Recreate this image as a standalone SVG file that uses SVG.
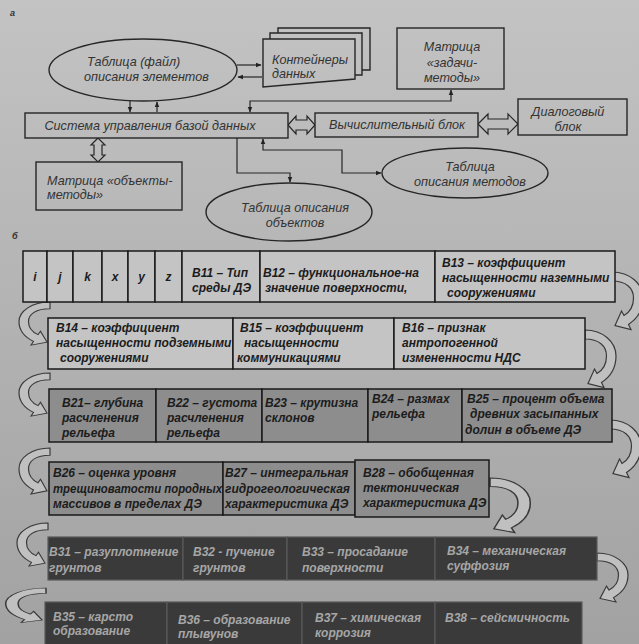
<svg xmlns="http://www.w3.org/2000/svg" xmlns:xlink="http://www.w3.org/1999/xlink" width="639" height="644" viewBox="0 0 639 644">
<defs>
<linearGradient id="bg" gradientUnits="userSpaceOnUse" x1="0" y1="0" x2="0" y2="644">
<stop offset="0" stop-color="#c3c3c3"/><stop offset="1" stop-color="#a2a2a2"/>
</linearGradient>
<marker id="ah" viewBox="0 0 10 10" refX="9" refY="5" markerWidth="5" markerHeight="5" orient="auto-start-reverse"><path d="M0,1 L10,5 L0,9 Z" fill="#222"/></marker>
<path id="carrow" d="M 0 0 C 18 0 31 12 31 26 C 31 39 25 47 16.5 52.5 L 19 57.5 L 3 53.5 L 9.5 39 L 12 43.5 C 18 40 21.5 34 21.5 26 C 21.5 16 14 9 0 9 Z"/>
</defs>
<style>
.ta{font-family:"Liberation Sans",Arial,sans-serif;font-size:12.6px;font-style:italic;fill:#333}
.tb{font-family:"Liberation Sans",Arial,sans-serif;font-size:12px;font-style:italic;font-weight:bold;fill:#1c1c1c}
.tw{font-family:"Liberation Sans",Arial,sans-serif;font-size:12px;font-style:italic;font-weight:bold;fill:#a6a6a6}
.mid{text-anchor:middle}
.nd{fill:url(#bg);stroke:#262626;stroke-width:1.4}
.c1{fill:#c4c4c4;stroke:#1a1a1a;stroke-width:1.5}
.c3{fill:#8d8d8d;stroke:#1a1a1a;stroke-width:1.5}
.c5{fill:#3a3a3a;stroke:#5a5a5a;stroke-width:1.2}
.ln{fill:none;stroke:#262626;stroke-width:1.2}
.ha{fill:url(#bg);stroke:#262626;stroke-width:1.2}
.ca{fill:#c0c0c0;stroke:#3a3a3a;stroke-width:1.2}
.lab{font-family:"Liberation Sans",Arial,sans-serif;font-size:9px;font-style:italic;font-weight:bold;fill:#333}
</style>
<rect x="0" y="0" width="639" height="644" fill="url(#bg)"/>
<text class="lab" x="10" y="16">а</text>
<text class="lab" x="12" y="239">б</text>

<g id="connectors">
<path class="ln" d="M237,65 H261" marker-end="url(#ah)"/>
<path class="ln" d="M262,77 H238" marker-end="url(#ah)"/>
<path class="ln" d="M130,101 V112" marker-end="url(#ah)"/>
<path class="ln" d="M157,112 V102" marker-end="url(#ah)"/>
<path class="ln" d="M451,90 V101 H250 V112" marker-start="url(#ah)" marker-end="url(#ah)"/>
<path class="ln" d="M237,138 V173 H290 V182" marker-end="url(#ah)"/>
<path class="ln" d="M263,139 V150 H342 V173 H381" marker-start="url(#ah)" marker-end="url(#ah)"/>
<path class="ha" d="M288,125 L296,116 L296,120 L307,120 L307,116 L315,125 L307,134 L307,130 L296,130 L296,134 Z"/>
<path class="ha" d="M478,124 L488,114 L488,119 L508,119 L508,114 L518,124 L508,134 L508,129 L488,129 L488,134 Z"/>
<path class="ha" d="M98,138 L91,145 L94,145 L94,155 L91,155 L98,162 L105,155 L102,155 L102,145 L105,145 Z"/>
<use xlink:href="#carrow" class="ca" transform="translate(612,272)"/>
<use xlink:href="#carrow" class="ca" transform="translate(50,302) scale(-1,0.75)"/>
<use xlink:href="#carrow" class="ca" transform="translate(585,330)"/>
<use xlink:href="#carrow" class="ca" transform="translate(50,373) scale(-1,0.75)"/>
<use xlink:href="#carrow" class="ca" transform="translate(610,420)"/>
<use xlink:href="#carrow" class="ca" transform="translate(50,448) scale(-1,0.8)"/>
<use xlink:href="#carrow" class="ca" transform="translate(490,478) scale(1.3,0.95)"/>
<use xlink:href="#carrow" class="ca" transform="translate(48,523) scale(-1,0.75)"/>
<use xlink:href="#carrow" class="ca" transform="translate(597,553) scale(1,0.85)"/>
<use xlink:href="#carrow" class="ca" transform="translate(46,588) scale(-1.3,0.6)"/>
</g>

<g id="tab-elements">
<ellipse class="nd" cx="143" cy="70" rx="94" ry="31"/>
<text class="ta" x="87" y="66">Таблица (файл)</text>
<text class="ta" x="84" y="81">описания элементов</text>
</g>
<g id="containers">
<path class="nd" d="M278,28 H370 V70 H278 Z"/>
<path class="nd" d="M270,33 H362 V75 H270 Z"/>
<path class="nd" d="M263,39 H355 V79 L263,87 Z"/>
<text class="ta" x="272" y="64">Контейнеры</text>
<text class="ta" x="272" y="78">данных</text>
</g>
<g id="matrix-tasks">
<rect class="nd" x="397" y="28" width="107" height="61"/>
<text class="ta mid" x="452" y="51">Матрица</text>
<text class="ta mid" x="452" y="67">«задачи-</text>
<text class="ta mid" x="452" y="82">методы»</text>
</g>
<g id="dbms">
<rect class="nd" x="25" y="113" width="263" height="25"/>
<text class="ta mid" x="150" y="130">Система управления базой данных</text>
</g>
<g id="compute">
<rect class="nd" x="315" y="113" width="163" height="24"/>
<text class="ta mid" x="397" y="129">Вычислительный блок</text>
</g>
<g id="dialog">
<rect class="nd" x="518" y="99" width="109" height="36"/>
<text class="ta mid" x="568" y="116">Диалоговый</text>
<text class="ta mid" x="568" y="131">блок</text>
</g>
<g id="matrix-objects">
<rect class="nd" x="36" y="162" width="146" height="48"/>
<text class="ta" x="47" y="185">Матрица «объекты-</text>
<text class="ta" x="47" y="199">методы»</text>
</g>
<g id="tab-methods">
<ellipse class="nd" cx="465" cy="173" rx="83" ry="25"/>
<text class="ta mid" x="470" y="171">Таблица</text>
<text class="ta mid" x="470" y="186">описания методов</text>
</g>
<g id="tab-objects">
<ellipse class="nd" cx="289" cy="212" rx="83" ry="29"/>
<text class="ta mid" x="295" y="212">Таблица описания</text>
<text class="ta mid" x="295" y="227">объектов</text>
</g>

<g id="r1-i"><rect class="c1" x="23" y="251" width="24" height="51"/><text class="tb mid" x="35" y="281">i</text></g>
<g id="r1-j"><rect class="c1" x="47" y="251" width="26" height="51"/><text class="tb mid" x="60" y="281">j</text></g>
<g id="r1-k"><rect class="c1" x="73" y="251" width="29" height="51"/><text class="tb mid" x="87.5" y="281">k</text></g>
<g id="r1-x"><rect class="c1" x="102" y="251" width="26" height="51"/><text class="tb mid" x="115" y="281">x</text></g>
<g id="r1-y"><rect class="c1" x="128" y="251" width="27" height="51"/><text class="tb mid" x="141.5" y="281">y</text></g>
<g id="r1-z"><rect class="c1" x="155" y="251" width="27" height="51"/><text class="tb mid" x="168.5" y="281">z</text></g>
<g id="B11"><rect class="c1" x="182" y="251" width="78" height="51"/><text class="tb" x="192" y="277">В11 – Тип</text><text class="tb" x="192" y="292">среды ДЭ</text></g>
<g id="B12"><rect class="c1" x="260" y="251" width="175" height="51"/><text class="tb" x="263" y="277">В12 – функциональное-на</text><text class="tb" x="265" y="292">значение поверхности,</text></g>
<g id="B13"><rect class="c1" x="435" y="251" width="180" height="51"/><text class="tb" x="442" y="267">В13 – коэффициент</text><text class="tb" x="442" y="282">насыщенности наземными</text><text class="tb" x="447" y="297">сооружениями</text></g>

<g id="B14"><rect class="c1" x="48" y="318" width="185" height="51"/><text class="tb" x="56" y="332">В14 – коэффициент</text><text class="tb" x="56" y="347">насыщенности подземными</text><text class="tb" x="60" y="362">сооружениями</text></g>
<g id="B15"><rect class="c1" x="233" y="318" width="161" height="51"/><text class="tb" x="240" y="332">В15 – коэффициент</text><text class="tb" x="244" y="347">насыщенности</text><text class="tb" x="237" y="362">коммуникациями</text></g>
<g id="B16"><rect class="c1" x="394" y="318" width="191" height="51"/><text class="tb" x="402" y="332">В16 – признак</text><text class="tb" x="402" y="347">антропогенной</text><text class="tb" x="402" y="362">измененности НДС</text></g>

<g id="B21"><rect class="c3" x="49" y="389" width="107" height="53"/><text class="tb" x="62" y="407">В21– глубина</text><text class="tb" x="62" y="422">расчленения</text><text class="tb" x="62" y="437">рельефа</text></g>
<g id="B22"><rect class="c3" x="156" y="389" width="106" height="53"/><text class="tb" x="167" y="407">В22 – густота</text><text class="tb" x="167" y="422">расчленения</text><text class="tb" x="167" y="437">рельефа</text></g>
<g id="B23"><rect class="c3" x="262" y="389" width="106" height="53"/><text class="tb" x="265" y="407">В23 – крутизна</text><text class="tb" x="265" y="422">склонов</text></g>
<g id="B24"><rect class="c3" x="368" y="389" width="94" height="53"/><text class="tb" x="372" y="403">В24 – размах</text><text class="tb" x="372" y="418">рельефа</text></g>
<g id="B25"><rect class="c3" x="462" y="389" width="150" height="53"/><text class="tb" x="467" y="403">В25 – процент объема</text><text class="tb" x="470" y="418">древних засыпанных</text><text class="tb" x="465" y="434">долин  в объеме ДЭ</text></g>

<g id="B26"><rect class="c3" x="49" y="462" width="174" height="53"/><text class="tb" x="53" y="477">В26 – оценка уровня</text><text class="tb" x="53" y="493" textLength="169" lengthAdjust="spacingAndGlyphs">трещиноватости породных</text><text class="tb" x="53" y="508">массивов в пределах ДЭ</text></g>
<g id="B27"><rect class="c3" x="223" y="462" width="132" height="53"/><text class="tb" x="225" y="477">В27 – интегральная</text><text class="tb" x="225" y="493">гидрогеологическая</text><text class="tb" x="225" y="508">характеристика ДЭ</text></g>
<g id="B28"><rect class="c3" x="355" y="460" width="134" height="57"/><text class="tb" x="363" y="477">В28 – обобщенная</text><text class="tb" x="363" y="492">тектоническая</text><text class="tb" x="363" y="507">характеристика ДЭ</text></g>

<g id="B31"><rect class="c5" x="48" y="537" width="135" height="43"/><text class="tw" x="49" y="556">В31 – разуплотнение</text><text class="tw" x="49" y="572">грунтов</text></g>
<g id="B32"><rect class="c5" x="183" y="537" width="104" height="43"/><text class="tw" x="193" y="556">В32  - пучение</text><text class="tw" x="193" y="572">грунтов</text></g>
<g id="B33"><rect class="c5" x="287" y="537" width="148" height="43"/><text class="tw" x="302" y="556">В33 – просадание</text><text class="tw" x="302" y="572">поверхности</text></g>
<g id="B34"><rect class="c5" x="435" y="537" width="162" height="43"/><text class="tw" x="447" y="555">В34 – механическая</text><text class="tw" x="447" y="570">суффозия</text></g>

<g id="B35"><rect class="c5" x="45" y="602" width="122" height="44"/><text class="tw" x="53" y="621">В35 – карсто</text><text class="tw" x="53" y="635">образование</text></g>
<g id="B36"><rect class="c5" x="167" y="602" width="135" height="44"/><text class="tw" x="178" y="624">В36 – образование</text><text class="tw" x="178" y="638">плывунов</text></g>
<g id="B37"><rect class="c5" x="302" y="602" width="133" height="44"/><text class="tw" x="315" y="622">В37 – химическая</text><text class="tw" x="315" y="637">коррозия</text></g>
<g id="B38"><rect class="c5" x="435" y="602" width="147" height="44"/><text class="tw" x="445" y="622">В38 – сейсмичность</text></g>
</svg>
